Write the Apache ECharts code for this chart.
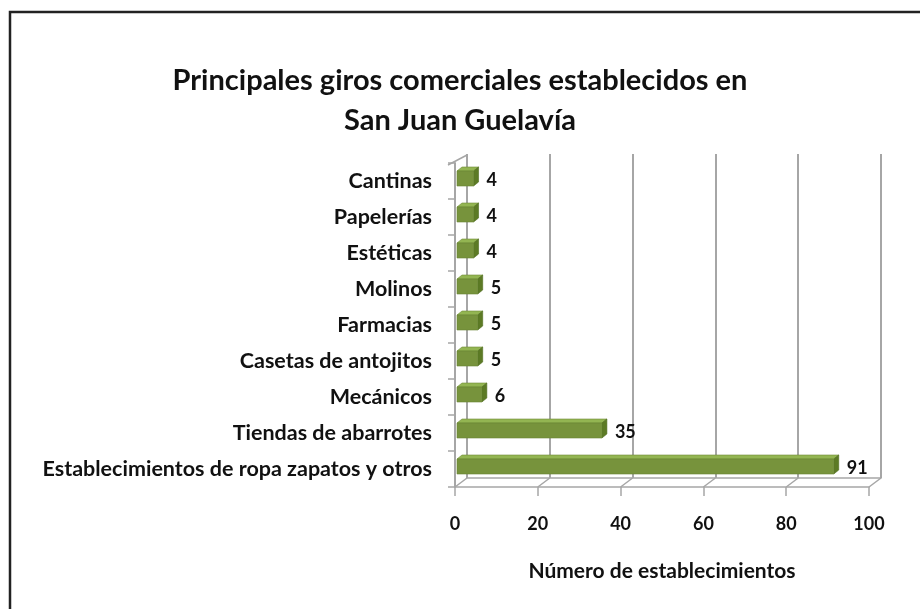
<!DOCTYPE html>
<html>
	<head>
		<meta charset="UTF-8">
		<title>Principales giros comerciales</title>
		<script src="https://cdn.jsdelivr.net/npm/echarts@6/dist/echarts.min.js"></script>
	</head>
	<body style="margin:0">
		<div id="main" style="width: 920px;height: 609px;"></div>
		<script type="text/javascript">
			// datos
			var categorias = ['Cantinas', 'Papelerías', 'Estéticas', 'Molinos', 'Farmacias',
				'Casetas de antojitos', 'Mecánicos', 'Tiendas de abarrotes',
				'Establecimientos de ropa zapatos y otros'];
			var valores = [4, 4, 4, 5, 5, 5, 6, 35, 91];
			var ticksX = [0, 20, 40, 60, 80, 100];

			var fuente = 'Lato';
			var gris = '#a6a6a6';
			var dx = 12, dy = 9; // profundidad del "3D"

			var myChart = echarts.init(document.getElementById('main'));

			// barra con cara frontal, superior y lateral
			function dibujaBarra(params, api) {
				var idx = api.value(0);
				var v = api.value(1);
				var p0 = api.coord([0, idx]);
				var p1 = api.coord([v, idx]);
				var x0 = p0[0] + 2, x1 = p1[0] + 2;
				var yt = p0[1] - 10, yb = p0[1] + 5;
				return {
					type: 'group',
					children: [{
						type: 'polygon',
						shape: { points: [[x0, yt], [x1, yt], [x1 + 5, yt - 4], [x0 + 5, yt - 4]] },
						style: { fill: '#93b552', stroke: '#6f8c36', lineWidth: 0.6 }
					}, {
						type: 'polygon',
						shape: { points: [[x1, yt], [x1 + 5, yt - 4], [x1 + 5, yb - 4], [x1, yb]] },
						style: { fill: '#5c7a25', stroke: '#4f6b1f', lineWidth: 0.6 }
					}, {
						type: 'rect',
						shape: { x: x0, y: yt, width: x1 - x0, height: yb - yt },
						style: { fill: '#77933c', stroke: '#6a8534', lineWidth: 0.6 }
					}, {
						type: 'text',
						style: {
							x: x1 + 13, y: p0[1] - 1, text: String(v),
							font: 'bold 18px ' + fuente, fill: '#111',
							verticalAlign: 'middle'
						}
					}]
				};
			}

			// diagonales del piso y de la pared
			function dibujaPiso(params, api) {
				var cs = params.coordSys;
				var p = api.coord([api.value(0), 0]);
				var fondo = cs.y + cs.height;
				var hijos = [{
					type: 'line',
					shape: { x1: p[0], y1: fondo, x2: p[0] + dx, y2: fondo - dy },
					style: { stroke: gris, lineWidth: 1.5 }
				}];
				if (params.dataIndex === 0) {
					hijos.push({
						type: 'line',
						shape: { x1: cs.x - 7, y1: cs.y + 2, x2: cs.x + dx, y2: cs.y - dy + 1 },
						style: { stroke: gris, lineWidth: 1.5 }
					});
				}
				return { type: 'group', children: hijos };
			}

			var option = {
				backgroundColor: '#fff',
				animation: false,
				title: {
					text: 'Principales giros comerciales establecidos en\nSan Juan Guelavía',
					left: 'center',
					top: 56,
					textStyle: {
						fontFamily: fuente, fontWeight: 'bold', fontSize: 29,
						color: '#111', lineHeight: 40
					}
				},
				graphic: [{
					type: 'rect',
					shape: { x: 10, y: 12, width: 1000, height: 1000 },
					style: { fill: 'none', stroke: '#222', lineWidth: 2.5 },
					silent: true
				}],
				grid: [
					{ left: 455, right: 51, top: 163, bottom: 122 },
					{ left: 455 + dx, right: 51 - dx, top: 163 - dy, bottom: 122 + dy }
				],
				xAxis: [{
					gridIndex: 0, type: 'value', min: 0, max: 100, interval: 20,
					axisLine: { show: true, lineStyle: { color: gris, width: 1.5 } },
					axisTick: { show: true, length: 9, lineStyle: { color: gris, width: 1.5 } },
					axisLabel: {
						margin: 28, fontFamily: fuente, fontWeight: 'bold', fontSize: 18, color: '#111'
					},
					splitLine: { show: false },
					name: 'Número de establecimientos',
					nameLocation: 'middle',
					nameGap: 74,
					nameTextStyle: { fontFamily: fuente, fontWeight: 'bold', fontSize: 21, color: '#111' }
				}, {
					gridIndex: 1, type: 'value', min: 0, max: 100, interval: 20,
					axisLine: { show: true, lineStyle: { color: gris, width: 1.5 } },
					axisTick: { show: false },
					axisLabel: { show: false },
					splitLine: { show: true, lineStyle: { color: gris, width: 2 } }
				}],
				yAxis: [{
					gridIndex: 0, type: 'category', data: categorias, inverse: true,
					axisLine: { show: true, lineStyle: { color: gris, width: 2 } },
					axisTick: { show: true, length: 7, lineStyle: { color: gris, width: 1.5 } },
					axisLabel: {
						margin: 23, fontFamily: fuente, fontWeight: 'bold', fontSize: 21.5, color: '#111'
					}
				}, {
					gridIndex: 1, type: 'category', data: categorias, inverse: true,
					axisLine: { show: false }, axisTick: { show: false }, axisLabel: { show: false }
				}],
				series: [{
					type: 'custom',
					xAxisIndex: 0, yAxisIndex: 0,
					renderItem: dibujaPiso,
					data: ticksX.map(function(t) { return [t]; }),
					silent: true,
					z: 1
				}, {
					type: 'custom',
					xAxisIndex: 0, yAxisIndex: 0,
					renderItem: dibujaBarra,
					encode: { x: 1, y: 0 },
					data: valores.map(function(v, i) { return [i, v]; }),
					z: 5
				}]
			};
			myChart.setOption(option);
		</script>
	</body>
</html>
